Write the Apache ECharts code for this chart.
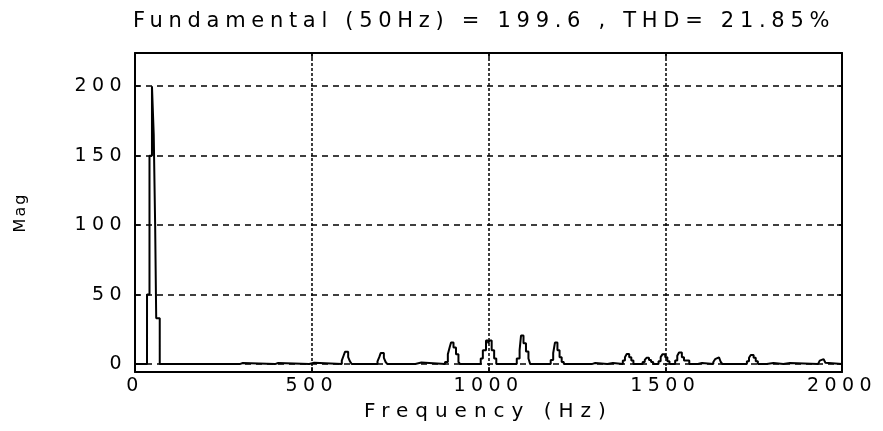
<!DOCTYPE html>
<html><head><meta charset="utf-8">
<script src="https://cdn.jsdelivr.net/npm/echarts@6/dist/echarts.min.js"></script>
<style>html,body{margin:0;padding:0;background:#fff}#c{width:883px;height:431px}</style>
</head><body><div id="c"></div>
<script>
// ---- text ----
const TITLE = 'Fundamental (50Hz) = 199.6 , THD= 21.85%';
const X_NAME = 'Frequency (Hz)';
const Y_NAME = 'Mag';
// ---- axes ----
const X_MIN = 0, X_MAX = 2000, X_STEP = 500;
const Y_MIN = -5.7, Y_MAX = 223.9;
const Y_TICKS = [0, 50, 100, 150, 200];
// ---- fundamental (stair samples: frequency Hz, magnitude) ----
const FUND_FREQ = [0, 34, 41, 48, 53, 57, 60, 70];
const FUND_MAG  = [0, 50, 150, 200, 165, 100, 33, 0];
// ---- harmonics (stair samples) ----
const HARM_FREQ = [
  296, 305,
  396, 405,
  493, 507,
  585, 590, 594, 603, 608, 613,
  686, 691, 695, 704, 709, 714,
  793, 810,
  877, 885, 890, 894, 901, 908, 915, 920,
  978, 984, 993, 999, 1003, 1009, 1016, 1022,
  1080, 1088, 1092, 1099, 1106, 1113, 1118,
  1176, 1183, 1188, 1195, 1201, 1207, 1213,
  1292, 1302,
  1336, 1352,
  1380, 1386, 1391, 1398, 1404, 1410,
  1436, 1442, 1447, 1454, 1460, 1466,
  1481, 1487, 1492, 1500, 1506, 1512,
  1528, 1534, 1539, 1547, 1553, 1568,
  1592, 1604,
  1636, 1641, 1645, 1652, 1657, 1662,
  1731, 1737, 1742, 1750, 1756, 1762,
  1787, 1806,
  1834, 1853,
  1932, 1937, 1941, 1948, 1953, 1958,
  2000
];
const HARM_MAG = [
  0.8, 0,
  0.8, 0,
  1, 0,
  2.5, 6, 8.8, 5, 2, 0,
  2, 5, 7.9, 4.5, 1.5, 0,
  1.2, 0,
  1.5, 7, 12, 15.5, 12, 7, 1.5, 0,
  4, 10, 17, 15, 17, 10, 4, 0,
  4, 10, 20.5, 15, 9, 4, 0,
  3, 8, 15.5, 10, 5, 1.5, 0,
  0.8, 0,
  0.7, 0,
  2.5, 5, 7.2, 5, 2.5, 0,
  1.5, 3, 4.5, 3, 1.5, 0,
  2, 5, 7, 5, 2, 0,
  2.5, 6, 8.4, 5, 2.5, 0,
  0.8, 0,
  1.5, 3.5, 4.8, 3.5, 1.5, 0,
  2, 4.5, 6.5, 4.5, 2, 0,
  0.8, 0,
  0.8, 0,
  1.2, 2.5, 3.6, 2.5, 1, 0,
  0
];

const FONT = 'DejaVu Sans';
const SIZE_TITLE = 21, SIZE_LABEL = 19, SIZE_XNAME = 20, SIZE_YNAME = 16;
// extra glyph spacing per font size (px), imitating the wide bitmap font
const SPACING = {21: 5.7, 19: 5.4, 20: 7, 16: 2};

const data = FUND_FREQ.map((f, i) => [f, FUND_MAG[i]])
  .concat(HARM_FREQ.map((f, i) => [f, HARM_MAG[i]]));

const black = '#000';
const plain = v => String(v);
const chart = echarts.init(document.getElementById('c'), null, {renderer: 'canvas'});
const option = {
  animation: false,
  backgroundColor: '#fff',
  title: {
    text: TITLE, left: 484, top: 11, padding: 0, textAlign: 'center',
    textStyle: {fontFamily: FONT, fontSize: SIZE_TITLE, fontWeight: 'normal', color: black}
  },
  grid: {left: 135, right: 41, top: 53, bottom: 59},
  xAxis: [{
    type: 'value', position: 'bottom', min: X_MIN, max: X_MAX, interval: X_STEP,
    name: X_NAME, nameLocation: 'middle', nameGap: 30,
    nameTextStyle: {fontFamily: FONT, fontSize: SIZE_XNAME, color: black},
    axisLine: {show: true, onZero: false, lineStyle: {color: black, width: 2}},
    axisTick: {show: true, inside: true, length: 5, lineStyle: {color: black, width: 1.5}},
    axisLabel: {fontFamily: FONT, fontSize: SIZE_LABEL, color: black, margin: 5, formatter: plain},
    splitLine: {show: true, lineStyle: {color: black, width: 1.5, type: [3, 2]}}
  }, {
    type: 'value', position: 'top', min: X_MIN, max: X_MAX, interval: X_STEP,
    axisLine: {show: true, onZero: false, lineStyle: {color: black, width: 2}},
    axisTick: {show: true, inside: true, length: 5, lineStyle: {color: black, width: 1.5}},
    axisLabel: {show: false}, splitLine: {show: false}
  }],
  yAxis: [{
    type: 'value', position: 'left', min: Y_MIN, max: Y_MAX,
    name: Y_NAME, nameLocation: 'middle', nameRotate: 90, nameGap: 106,
    nameTextStyle: {fontFamily: FONT, fontSize: SIZE_YNAME, color: black},
    axisLine: {show: true, onZero: false, lineStyle: {color: black, width: 2}},
    axisTick: {show: true, inside: true, length: 5, customValues: Y_TICKS, lineStyle: {color: black, width: 1.5}},
    axisLabel: {customValues: Y_TICKS, fontFamily: FONT, fontSize: SIZE_LABEL, color: black, margin: 8, formatter: plain},
    splitLine: {show: true, lineStyle: {color: black, width: 1.5, type: [6, 5]}}
  }, {
    type: 'value', position: 'right', min: Y_MIN, max: Y_MAX,
    axisLine: {show: true, onZero: false, lineStyle: {color: black, width: 2}},
    axisTick: {show: true, inside: true, length: 5, customValues: Y_TICKS, lineStyle: {color: black, width: 1.5}},
    axisLabel: {show: false}, splitLine: {show: false}
  }],
  series: [{
    type: 'line', step: 'end', xAxisIndex: 0, yAxisIndex: 0,
    data: data, showSymbol: false, symbol: 'none', silent: true,
    lineStyle: {color: black, width: 2}
  }]
};
chart.setOption(option);

// widen glyph spacing like the reference's bitmap font
(function applySpacing() {
  try {
    const zr = chart.getZr();
    const painter = zr.painter;
    const layers = painter.getLayers ? painter.getLayers() : (painter._layers || {});
    let ok = false;
    Object.keys(layers).forEach(k => {
      const c = layers[k].ctx;
      if (c && ('letterSpacing' in c)) {
        const orig = c.fillText;
        c.fillText = function (t, x, y, w) {
          const m = /(\d+(?:\.\d+)?)px/.exec(this.font);
          const s = m ? (SPACING[Math.round(+m[1])] || 0) : 0;
          this.letterSpacing = s + 'px';
          return w === undefined ? orig.call(this, t, x, y) : orig.call(this, t, x, y, w);
        };
        ok = true;
      }
    });
    if (ok) {
      zr.storage.getDisplayList(true).forEach(el => el.markRedraw && el.markRedraw());
      zr.refreshImmediately();
    }
  } catch (e) {}
})();
</script>
</body></html>
